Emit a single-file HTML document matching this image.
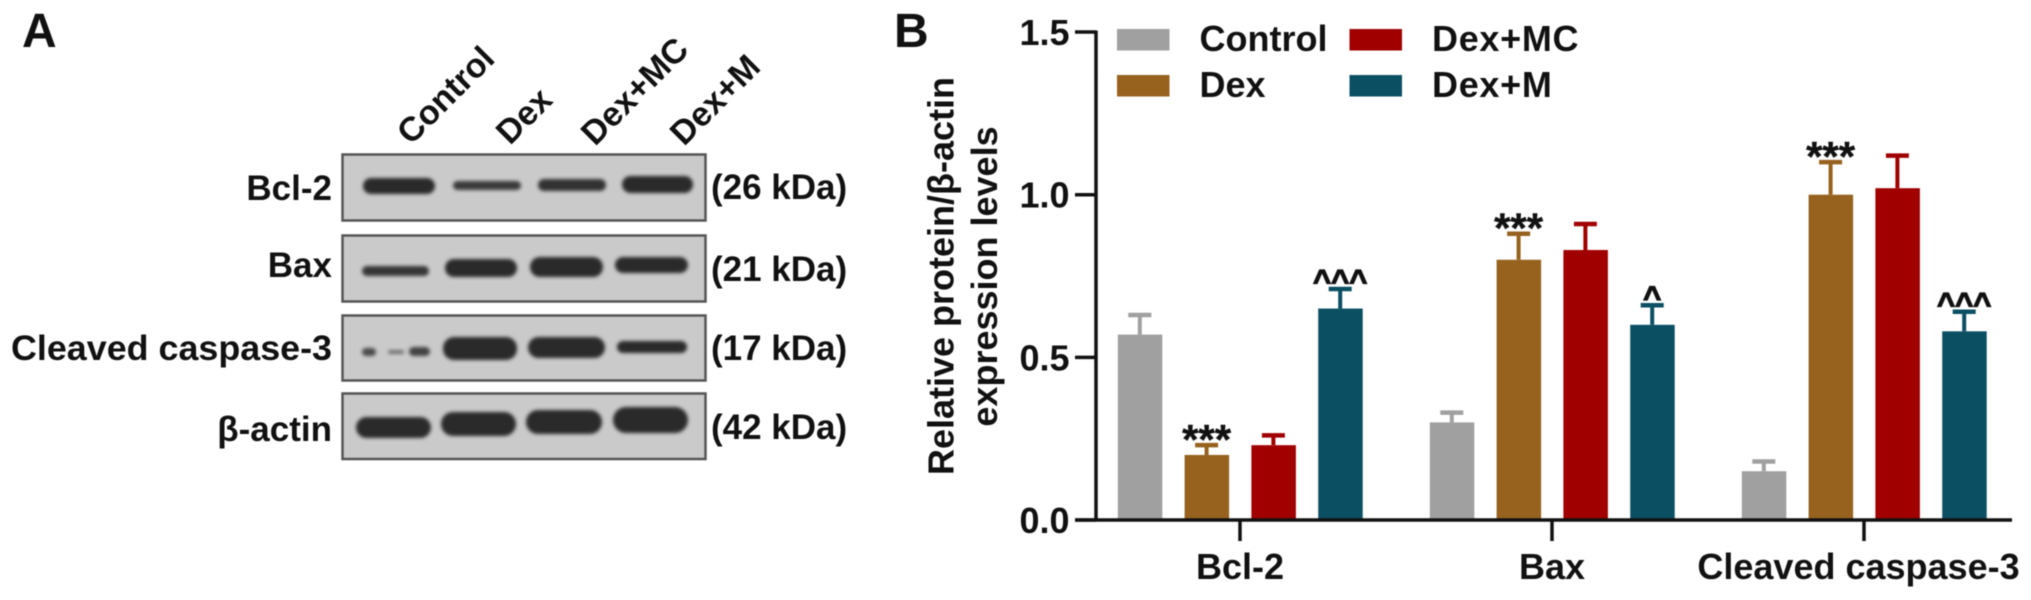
<!DOCTYPE html>
<html lang="en">
<head>
<meta charset="utf-8">
<title>Western blot and protein expression chart</title>
<style>
html,body{margin:0;padding:0;background:#fff;}
svg{display:block;filter:blur(0.55px);}
text{font-family:"Liberation Sans",Arial,sans-serif;font-weight:bold;fill:#111;}
.blot{fill:#cacaca;stroke:#555;stroke-width:2.5;}
.band{fill:#2a2a2a;filter:url(#band-blur);}
.lab{font-size:35px;}
</style>
</head>
<body>
<svg id="figure" xmlns="http://www.w3.org/2000/svg" width="2031" height="600" viewBox="0 0 2031 600">
<defs>
<filter id="band-blur" x="-20%" y="-60%" width="140%" height="220%"><feGaussianBlur stdDeviation="1.8"/></filter>
</defs>
<rect x="0" y="0" width="2031" height="600" fill="#fff"/>

<g>
<text x="22" y="47" font-size="48">A</text>
<text transform="translate(411 146) rotate(-45)" font-size="34">Control</text>
<text transform="translate(510 146) rotate(-45)" font-size="34">Dex</text>
<text transform="translate(595 147) rotate(-45)" font-size="34">Dex+MC</text>
<text transform="translate(684 147) rotate(-45)" font-size="34">Dex+M</text>

<rect class="blot" x="342.5" y="154.5" width="363" height="66"/>
<rect class="blot" x="342.5" y="235.5" width="363" height="66"/>
<rect class="blot" x="342.5" y="315.5" width="363" height="65"/>
<rect class="blot" x="342.5" y="393.5" width="363" height="65.5"/>

<g>
<rect class="band" x="363" y="178" width="72" height="16" rx="8"/>
<rect class="band" x="453" y="181" width="68" height="9" rx="4.5" opacity=".9"/>
<rect class="band" x="538" y="179" width="68" height="12" rx="6" opacity=".95"/>
<rect class="band" x="622" y="176" width="71" height="17" rx="8.5"/>
</g>
<g>
<rect class="band" x="362" y="266" width="67" height="10" rx="5" opacity=".92"/>
<rect class="band" x="445" y="259" width="72" height="18" rx="9"/>
<rect class="band" x="530" y="257" width="73" height="20" rx="10"/>
<rect class="band" x="615" y="257" width="73" height="16" rx="8"/>
</g>
<g>
<rect class="band" x="362" y="348" width="14" height="8" rx="4" opacity=".8"/>
<rect class="band" x="388" y="350" width="16" height="4" rx="2" opacity=".55"/>
<rect class="band" x="409" y="347" width="21" height="9" rx="4.5" opacity=".85"/>
<rect class="band" x="443" y="337" width="74" height="23" rx="11"/>
<rect class="band" x="528" y="337" width="77" height="21" rx="10.5"/>
<rect class="band" x="617" y="341" width="70" height="12" rx="6"/>
</g>
<g>
<rect class="band" x="356" y="417" width="75" height="21" rx="10.5"/>
<rect class="band" x="441" y="412" width="75" height="24" rx="12"/>
<rect class="band" x="526" y="410" width="76" height="24" rx="12"/>
<rect class="band" x="613" y="407" width="75" height="26" rx="13"/>
</g>

<text class="lab" x="332" y="200" text-anchor="end">Bcl-2</text>
<text class="lab" x="332" y="277" text-anchor="end">Bax</text>
<text class="lab" x="332" y="360" text-anchor="end" textLength="321" lengthAdjust="spacingAndGlyphs">Cleaved caspase-3</text>
<text class="lab" x="332" y="441" text-anchor="end">β-actin</text>
<text class="lab" x="711" y="199">(26 kDa)</text>
<text class="lab" x="711" y="281">(21 kDa)</text>
<text class="lab" x="711" y="360">(17 kDa)</text>
<text class="lab" x="711" y="439">(42 kDa)</text>
</g>

<g id="panel-b">
<text x="894" y="47" font-size="48">B</text>
<text transform="translate(953.5 276) rotate(-90)" font-size="36" text-anchor="middle">Relative protein/β-actin</text>
<text transform="translate(997 276.5) rotate(-90)" font-size="36" text-anchor="middle">expression levels</text>
</g>
</svg>
<script>
const categories = ['Bcl-2', 'Bax', 'Cleaved caspase-3'];
const seriesNames = ['Control', 'Dex', 'Dex+MC', 'Dex+M'];
const seriesColors = ['#a0a0a0', '#96621e', '#a00000', '#0b4f63'];
const controlValues = [0.57, 0.30, 0.15];
const dexValues = [0.20, 0.80, 1.00];
const dexMcValues = [0.23, 0.83, 1.02];
const dexMValues = [0.65, 0.60, 0.58];
const controlErrors = [0.06, 0.03, 0.03];
const dexErrors = [0.03, 0.08, 0.10];
const dexMcErrors = [0.03, 0.08, 0.10];
const dexMErrors = [0.06, 0.06, 0.06];
const dexMarks = ['***', '***', '***'];
const dexMMarks = ['^^^', '^', '^^^'];
const yTickLabels = ['0.0', '0.5', '1.0', '1.5'];

const seriesValues = [controlValues, dexValues, dexMcValues, dexMValues];
const seriesErrors = [controlErrors, dexErrors, dexMcErrors, dexMErrors];
const seriesMarks = [null, dexMarks, null, dexMMarks];

const SVGNS = 'http://www.w3.org/2000/svg';
const panel = document.getElementById('panel-b');
function yScale(v) { return 520 - 325.3 * v; }
function groupX(i) { return 1240 + 312 * i; }
function barX(i, s) { return groupX(i) + (s - 1.5) * 66.8; }
function make(tag, attrs, parent) {
  const el = document.createElementNS(SVGNS, tag);
  for (const k in attrs) el.setAttribute(k, attrs[k]);
  (parent || panel).appendChild(el);
  return el;
}

/* bars */
seriesNames.forEach(function (name, s) {
  categories.forEach(function (cat, i) {
    const cx = barX(i, s);
    const v = seriesValues[s][i];
    const top = yScale(v);
    const capY = yScale(v + seriesErrors[s][i]);
    const stem = make('line', { x1: cx, x2: cx, y1: top, y2: capY, stroke: seriesColors[s], 'stroke-width': 4 });
    
    
    const cap = make('line', { x1: cx - 11.5, x2: cx + 11.5, y1: capY, y2: capY, stroke: seriesColors[s], 'stroke-width': 4.5 });
    
    
    const bar = make('rect', { x: cx - 22, y: top, width: 44.5, height: 520 - top, fill: seriesColors[s] });
    
    
    const marks = seriesMarks[s];
    if (marks && marks[i]) {
      const isStar = marks[i].charAt(0) === '*';
      const note = make('text', { x: cx, y: capY + (isStar ? 9 : 2), 'text-anchor': 'middle', 'font-size': isStar ? 42 : 31, stroke: '#111', 'stroke-width': isStar ? 0.4 : 1.2 });
      note.textContent = marks[i];
      
      
    }
  });
});

/* y axis */
const yAxis = make('line', { x1: 1096, x2: 1096, y1: yScale(1.5) - 1.5, y2: 521.5, stroke: '#111', 'stroke-width': 3.5 });


yTickLabels.forEach(function (label) {
  const y = yScale(parseFloat(label));
  const tick = make('line', { x1: 1075, x2: 1096, y1: y, y2: y, stroke: '#111', 'stroke-width': 3.5 });
  
  
  const t = make('text', { x: 1069.5, y: y + 13, 'text-anchor': 'end', 'font-size': 36 });
  t.textContent = label;
  
  
});

/* x axis */
const xAxis = make('line', { x1: 1075, x2: 2012, y1: 520, y2: 520, stroke: '#111', 'stroke-width': 3.5 });


categories.forEach(function (cat, i) {
  const x = groupX(i);
  const tick = make('line', { x1: x, x2: x, y1: 520, y2: 541, stroke: '#111', 'stroke-width': 3.5 });
  
  
  const t = make('text', { x: x + (i === 2 ? -5.5 : 0), y: 579, 'text-anchor': 'middle', 'font-size': 36 });
  t.textContent = cat;
  
  
});

/* legend */
seriesNames.forEach(function (name, s) {
  const col = s < 2 ? 0 : 1;
  const row = s % 2;
  const lx = 1117 + col * 232.5;
  const ly = 29 + row * 46;
  const sw = make('rect', { x: lx, y: ly, width: 52.5, height: 21.5, fill: seriesColors[s] });
  
  
  const t = make('text', { x: lx + 82.5, y: ly + 22, 'font-size': 36, 'letter-spacing': col ? 0.7 : 0 });
  t.textContent = name;
  
  
});
</script>
</body>
</html>
